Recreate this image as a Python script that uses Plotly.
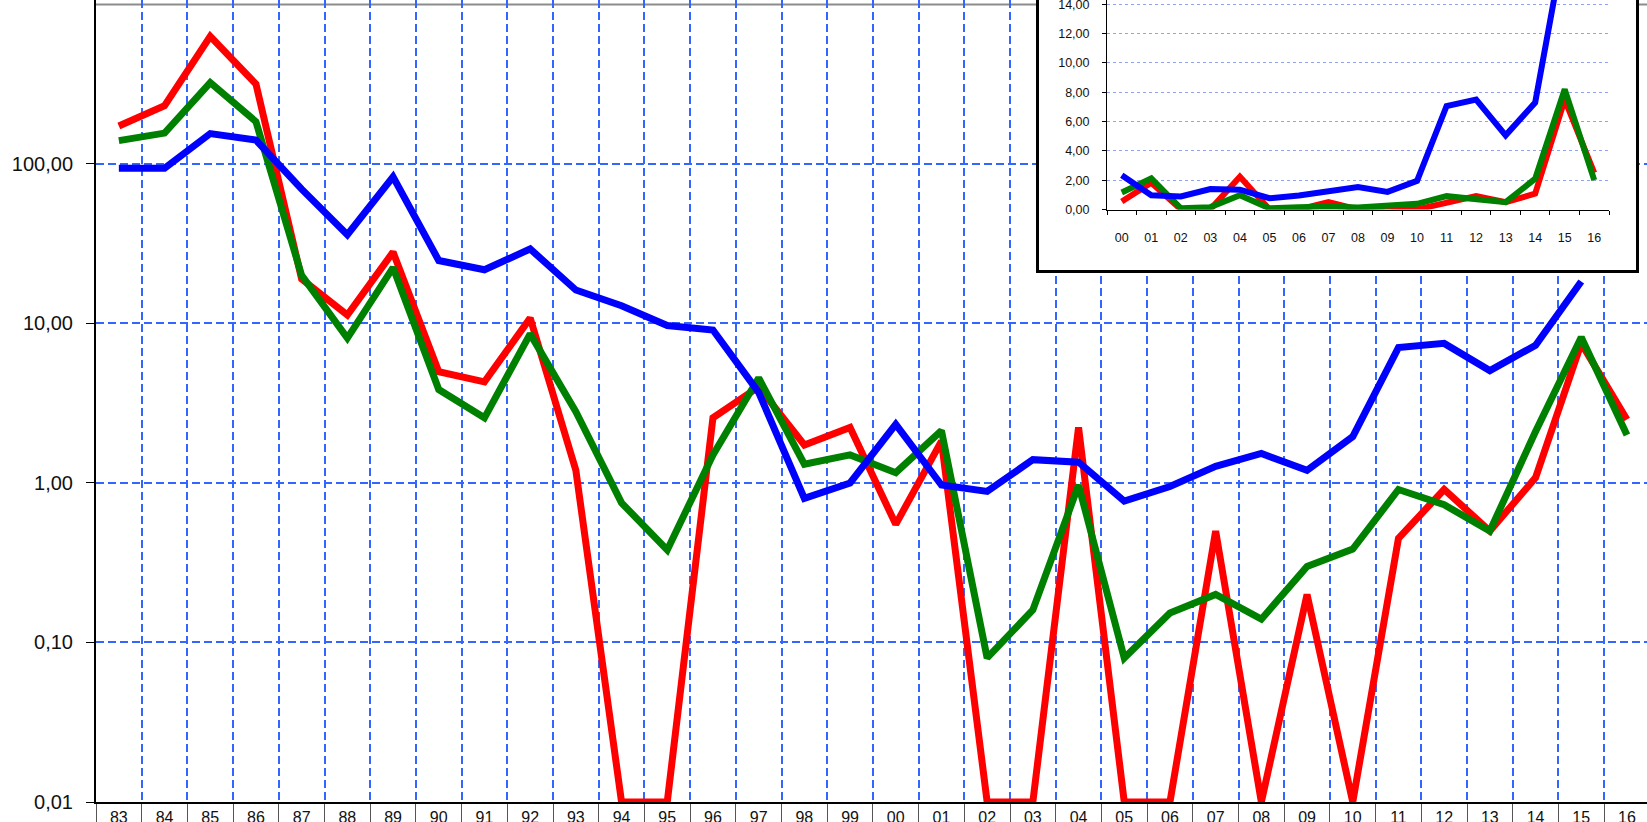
import plotly.graph_objects as go

years = ["83", "84", "85", "86", "87", "88", "89", "90", "91", "92", "93", "94", "95", "96", "97", "98", "99",
         "00", "01", "02", "03", "04", "05", "06", "07", "08", "09", "10", "11", "12", "13", "14", "15", "16"]

red = [173, 232, 630, 317, 19, 11.3, 28, 4.98, 4.3, 10.8, 1.2, 0.01, 0.01, 2.56, 4.0, 1.73, 2.23,
       0.55, 1.83, 0.01, 0.01, 2.23, 0.01, 0.01, 0.5, 0.01, 0.2, 0.01, 0.45, 0.91, 0.5, 1.08, 7.5, 2.5]
green = [140, 156, 323, 184, 20, 8.1, 22.4, 3.85, 2.56, 8.6, 2.8, 0.75, 0.38, 1.5, 4.55, 1.31, 1.5,
         1.16, 2.13, 0.08, 0.16, 0.97, 0.08, 0.153, 0.2, 0.14, 0.30, 0.385, 0.91, 0.73, 0.5, 2.1, 8.2, 2.0]
blue = [94, 94, 155, 141, 69.5, 36, 83, 24.8, 21.7, 29.3, 16.2, 12.9, 9.7, 9.1, 3.7, 0.80, 1.0,
        2.33, 0.97, 0.885, 1.4, 1.35, 0.77, 0.95, 1.27, 1.53, 1.2, 1.95, 7.06, 7.5, 5.06, 7.3, 18.3, None]

main_tickvals = [0.01, 0.1, 1, 10, 100]
main_ticktext = ["0,01", "0,10", "1,00", "10,00", "100,00"]
inset_tickvals = [0, 2, 4, 6, 8, 10, 12, 14]
inset_ticktext = ["0,00", "2,00", "4,00", "6,00", "8,00", "10,00", "12,00", "14,00"]

inset_start = years.index("00")
inset_years = years[inset_start:]

FONT = "Liberation Sans, Arial, sans-serif"
RED, GREEN, BLUE = "#ff0000", "#008000", "#0000ff"
GRID = "#3366ff"

W, H = 1647, 822
ML, MR, MT, MB = 96, 0, 0, 20
PW, PH = W - ML - MR, H - MT - MB


def px_x(x):
    return (x - ML) / PW


def px_y(y):
    return (H - MB - y) / PH


fig = go.Figure()

for vals, col in [(red, RED), (green, GREEN), (blue, BLUE)]:
    fig.add_trace(go.Scatter(x=years, y=vals, mode="lines", line=dict(color=col, width=7),
                             xaxis="x", yaxis="y", showlegend=False, hoverinfo="skip"))

# dummy trace for the inset frame subplot
fig.add_trace(go.Scatter(x=[0], y=[0], mode="markers", marker=dict(opacity=0),
                         xaxis="x2", yaxis="y2", showlegend=False, hoverinfo="skip"))

for vals, col in [(red, RED), (green, GREEN), (blue, BLUE)]:
    fig.add_trace(go.Scatter(x=inset_years, y=vals[inset_start:], mode="lines",
                             line=dict(color=col, width=6),
                             xaxis="x3", yaxis="y3", showlegend=False, hoverinfo="skip"))

# plot area top border (grey)
fig.add_shape(type="line", xref="paper", yref="y", x0=0, x1=1, y0=1000, y1=1000,
              line=dict(color="#8c8c8c", width=2), layer="below")

fig.update_layout(
    width=W, height=H,
    margin=dict(l=ML, r=MR, t=MT, b=MB, pad=0, autoexpand=False),
    paper_bgcolor="white", plot_bgcolor="white",
    font=dict(family=FONT, color="#000000"),
    separators=",.",
    xaxis=dict(
        type="category", categoryorder="array", categoryarray=years,
        range=[-0.5, -0.5 + PW / 45.7], automargin=False,
        tickson="boundaries", ticks="outside", ticklen=22, tickwidth=1, tickcolor="#555555",
        showline=True, linecolor="#000000", linewidth=2,
        showgrid=True, gridcolor=GRID, gridwidth=2, griddash="8px,4px",
        tickfont=dict(size=16, color="#111111"), ticklabelstandoff=0,
        ticklabeloverflow="allow",
        zeroline=False, fixedrange=True,
    ),
    yaxis=dict(
        type="log", range=[-2, 3 + 4.4 / 159.6], automargin=False,
        tickvals=main_tickvals, ticktext=main_ticktext,
        ticks="outside", ticklen=8, tickwidth=1, tickcolor="#000000",
        showline=True, linecolor="#000000", linewidth=2,
        showgrid=True, gridcolor=GRID, gridwidth=2, griddash="8px,4px",
        tickfont=dict(size=20, color="#111111"), ticklabelstandoff=9,
        ticklabeloverflow="allow",
        zeroline=False, fixedrange=True,
    ),
    # inset frame
    xaxis2=dict(
        domain=[px_x(1039), px_x(1636)], anchor="y2", range=[0, 1], automargin=False,
        showline=True, linecolor="#000000", linewidth=3, mirror=False,
        showgrid=False, zeroline=False, showticklabels=False, ticks="",
    ),
    yaxis2=dict(
        domain=[px_y(270), 1], anchor="x2", range=[0, 1], automargin=False,
        showline=True, linecolor="#000000", linewidth=3, mirror=True,
        showgrid=False, zeroline=False, showticklabels=False, ticks="",
    ),
    # inset chart
    xaxis3=dict(
        domain=[px_x(1107), px_x(1609)], anchor="y3", automargin=False,
        type="category", categoryorder="array", categoryarray=inset_years,
        range=[-0.5, 16.5],
        tickson="boundaries", ticks="outside", ticklen=4, tickwidth=1, tickcolor="#000000",
        showline=True, linecolor="#000000", linewidth=1,
        showgrid=False, zeroline=False,
        tickfont=dict(size=12.5, color="#111111"), ticklabelstandoff=16,
        ticklabeloverflow="allow",
    ),
    yaxis3=dict(
        domain=[px_y(209.5), 1], anchor="x3", automargin=False,
        range=[0, 14 + 4.3 / 14.66],
        tickvals=inset_tickvals, ticktext=inset_ticktext,
        ticks="outside", ticklen=4, tickwidth=1, tickcolor="#000000",
        showline=True, linecolor="#000000", linewidth=1,
        showgrid=True, gridcolor="#8fa3f2", gridwidth=1, griddash="dot",
        zeroline=False,
        tickfont=dict(size=12.5, color="#111111"), ticklabelstandoff=10,
        ticklabeloverflow="allow",
    ),
)

fig.write_html(
    "out.html",
    config={"displayModeBar": False},
    post_script="document.body.style.margin='0';document.body.style.overflow='hidden';",
)
